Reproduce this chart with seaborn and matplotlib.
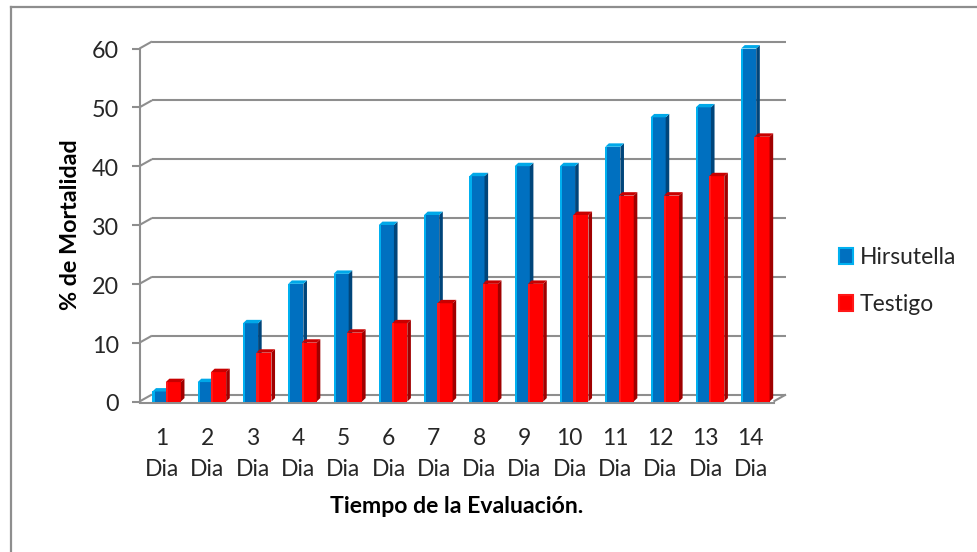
import numpy as np
import pandas as pd
import matplotlib
matplotlib.use("Agg")
import matplotlib.pyplot as plt
from matplotlib.lines import Line2D
from matplotlib.patches import Patch, Polygon
from matplotlib.transforms import ScaledTranslation
import seaborn as sns

days = ["1", "2", "3", "4", "5", "6", "7", "8", "9", "10", "11", "12", "13", "14"]
hirsutella = [1.7, 3.3, 13.3, 20, 21.7, 30, 31.7, 38.3, 40, 40, 43.3, 48.3, 50, 60]
testigo = [3.3, 5, 8.3, 10, 11.7, 13.3, 16.7, 20, 20, 31.7, 35, 35, 38.3, 45]
series_names = ["Hirsutella", "Testigo"]
y_ticks = [0, 10, 20, 30, 40, 50, 60]

W, H = 977, 552
AX_L, AX_R, AX_T, AX_B = 139.5, 773.5, 48.5, 401.5
AXIS_GREY = "#8e8e8e"
TEXT = "#262626"
FACES = {
    "Hirsutella": dict(front="#0070c0", edge="#00b0f0", top="#00a8e8", side="#00457a"),
    "Testigo": dict(front="#ff0000", edge="#ff1818", top="#c80000", side="#a00000"),
}

sns.set_theme(style="white")
plt.rcParams["font.family"] = ["Lato", "DejaVu Sans"]

df = pd.DataFrame({
    "dia": days * 2,
    "serie": [series_names[0]] * len(days) + [series_names[1]] * len(days),
    "valor": hirsutella + testigo,
})

fig = plt.figure(figsize=(W / 100, H / 100), dpi=100, facecolor="white")
ax = fig.add_axes([AX_L / W, 1 - AX_B / H, (AX_R - AX_L) / W, (AX_B - AX_T) / H])
ax.patch.set_alpha(0)

sns.barplot(
    data=df, x="dia", y="valor", hue="serie", order=days, hue_order=series_names,
    palette={k: v["front"] for k, v in FACES.items()}, width=0.59, dodge=True,
    legend=False, saturation=1, ax=ax, zorder=3,
)
ax.set_xlim(-0.5, 13.5)
ax.set_ylim(0, 60)

# Pixel sizes expressed in data units, for the oblique projection
px_x = 14 / (AX_R - AX_L)
px_y = 60 / (AX_B - AX_T)
wall_dx, wall_dy = 12.5 * px_x, 7 * px_y
bar_dx, bar_dy = 3.6 * px_x, 3.4 * px_y
shift = 4.5 * px_x

# Back wall, floor and the slanted joins to the front axis
line_kw = dict(color=AXIS_GREY, lw=1.5, clip_on=False, zorder=1, solid_capstyle="butt")
for v in y_ticks:
    ax.plot([-0.5 + wall_dx, 13.5 + wall_dx], [v + wall_dy] * 2, **line_kw)
    ax.plot([-0.5, -0.5 + wall_dx], [v, v + wall_dy], **line_kw)
ax.plot([13.5, 13.5 + wall_dx], [0, wall_dy], **line_kw)

# Front, top and side faces of every bar, built on the bars seaborn placed
n = len(days)
for i, patch in enumerate(ax.patches):
    name = series_names[i // n]
    faces = FACES[name]
    z = 3 + i // n
    w = patch.get_width() * 1.13
    x0 = patch.get_x() + shift - (w - patch.get_width()) / 2
    h = patch.get_height()
    patch.set_x(x0)
    patch.set_width(w)
    patch.set_zorder(z)
    patch.set_edgecolor("none")
    x1 = x0 + w
    ax.add_patch(Polygon([(x1, 0), (x1 + bar_dx, bar_dy), (x1 + bar_dx, h + bar_dy), (x1, h)],
                         closed=True, fc=faces["side"], ec="none", zorder=z, clip_on=False))
    ax.add_patch(Polygon([(x0, h), (x0 + bar_dx, h + bar_dy), (x1 + bar_dx, h + bar_dy), (x1, h)],
                         closed=True, fc=faces["top"], ec="none", zorder=z, clip_on=False))
    # Lighter bevel down the left edge of the front face
    bevel = 2.2 * px_x
    ax.add_patch(Polygon([(x0, 0), (x0 + bevel, 0), (x0 + bevel, h), (x0, h)],
                         closed=True, fc=faces["edge"], ec="none", zorder=z, clip_on=False))

# Axis styling
for side in ("top", "right"):
    ax.spines[side].set_visible(False)
for side in ("left", "bottom"):
    ax.spines[side].set_color(AXIS_GREY)
    ax.spines[side].set_linewidth(1.5)
    ax.spines[side].set_zorder(2)
ax.spines["bottom"].set_position(("outward", 1))

ax.set_yticks(y_ticks)
ax.set_xticks(range(n))
ax.set_xticklabels([f"{d}\nDia" for d in days], linespacing=1.6)
ax.set_xticks(np.arange(-0.5, 14), minor=True)
ax.tick_params(axis="x", which="major", length=0, pad=18, labelsize=16.5, labelcolor=TEXT)
ax.tick_params(axis="x", which="minor", length=5.2, width=1.5, color=AXIS_GREY, direction="out")
ax.tick_params(axis="y", which="major", left=True, length=6, width=1.5, color=AXIS_GREY,
               pad=8.5, labelsize=16.8, labelcolor=TEXT)
nudge = ScaledTranslation(0, -1 / 72, fig.dpi_scale_trans)
for label in ax.get_yticklabels():
    label.set_transform(label.get_transform() + nudge)
ax.set_xlabel("Tiempo de la Evaluación.", fontsize=16.6, fontweight="bold", color="black", labelpad=11.5)
ax.set_ylabel("% de Mortalidad", fontsize=16.8, fontweight="bold", color="black", labelpad=8.2)

# Legend
handles = [Patch(facecolor=FACES[s]["front"], edgecolor=FACES[s]["edge"], linewidth=1.5)
           for s in series_names]
fig.legend(handles, series_names, loc="center left", bbox_to_anchor=(839 / W, 1 - 281 / H),
           frameon=False, fontsize=16.5, labelcolor=TEXT, handlelength=0.62, handleheight=0.68,
           handletextpad=0.3, labelspacing=1.13, borderaxespad=0, borderpad=0)

# Chart frame, left and top edges
frame_kw = dict(color=AXIS_GREY, lw=1.6, transform=fig.transFigure, solid_capstyle="projecting")
fig.add_artist(Line2D([11 / W, 11 / W], [0, 1 - 6.5 / H], **frame_kw))
fig.add_artist(Line2D([11 / W, 1], [1 - 6.5 / H, 1 - 6.5 / H], **frame_kw))

fig.savefig("out.png", dpi=100, facecolor="white")
